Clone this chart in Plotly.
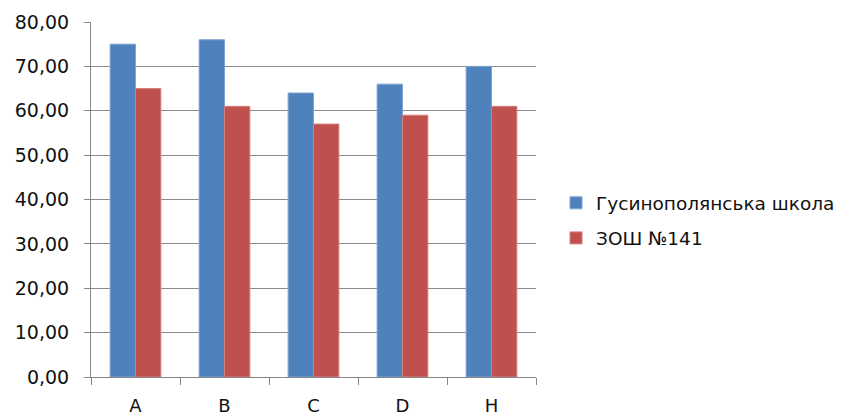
import plotly.graph_objects as go

categories = ["A", "B", "C", "D", "H"]
school_1_name = "Гусинополянська школа"
school_2_name = "ЗОШ №141"
school_1_values = [75, 76, 64, 66, 70]
school_2_values = [65, 61, 57, 59, 61]

FONT = "DejaVu Sans"

fig = go.Figure()
fig.add_trace(go.Bar(x=categories, y=school_1_values, name=school_1_name,
                     marker=dict(color="#4F81BD", line=dict(color="#7FA3D0", width=1)),
                     legendgroup="g1"))
fig.add_trace(go.Bar(x=categories, y=school_2_values, name=school_2_name,
                     marker=dict(color="#C0504D", line=dict(color="#D48280", width=1)),
                     legendgroup="g2"))

# page body has an 8px margin, so the figure is slightly smaller and offset
fig.update_layout(
    width=839, height=409,
    margin=dict(l=83, r=311, t=14, b=40, autoexpand=False),
    paper_bgcolor="white", plot_bgcolor="white",
    barmode="group", bargap=0.43, bargroupgap=0,
    separators=", ",
    font=dict(family=FONT, size=18, color="#111"),
    showlegend=True,
    legend=dict(x=1.045, xanchor="left", y=0.44, yanchor="middle",
                font=dict(family=FONT, size=18.5, color="#111"),
                tracegroupgap=8, itemwidth=30,
                bgcolor="rgba(0,0,0,0)"),
    xaxis=dict(showline=True, linecolor="#868686", linewidth=1,
               ticks="outside", tickson="boundaries", ticklen=7, tickcolor="#868686",
               showgrid=False, tickfont=dict(family=FONT, size=18, color="#111"),
               ticklabelstandoff=12, automargin=False),
    yaxis=dict(range=[0, 80], dtick=10, tickformat=".2f",
               showline=True, linecolor="#868686", linewidth=1,
               ticks="outside", ticklen=6, tickcolor="#868686",
               showgrid=True, gridcolor="#8C8C8C", gridwidth=1,
               zeroline=False, automargin=False,
               tickfont=dict(family=FONT, size=19, color="#111"),
               ticklabelstandoff=11),
)

fig.write_html("out.html")
